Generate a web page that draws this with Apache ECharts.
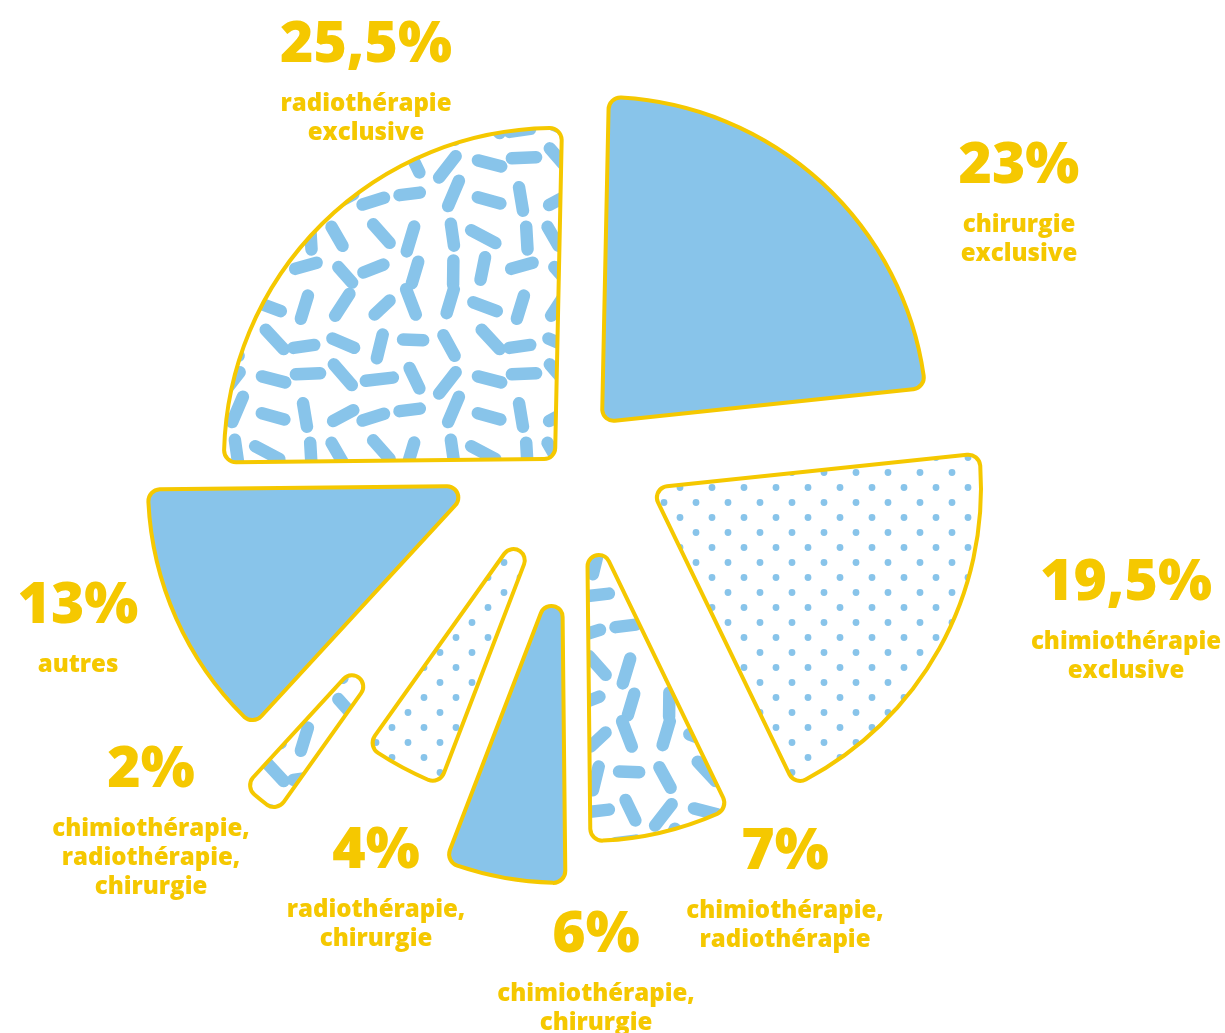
<!DOCTYPE html>
<html><head><meta charset="utf-8">
<script src="https://cdn.jsdelivr.net/npm/echarts@6/dist/echarts.min.js"></script>
<style>html,body{margin:0;padding:0;background:#fff}#c{width:1225px;height:1033px}</style>
</head><body><div id="c"></div>
<script>
// ---- data ----
const categories = ['chirurgie\nexclusive', 'chimiothérapie\nexclusive', 'chimiothérapie,\nradiothérapie', 'chimiothérapie,\nchirurgie', 'radiothérapie,\nchirurgie', 'chimiothérapie,\nradiothérapie,\nchirurgie', 'autres', 'radiothérapie\nexclusive'];
const values = [23, 19.5, 7, 6, 4, 2, 13, 25.5];

// ---- style / layout ----
const YELLOW = '#F5C800';
const BLUE = '#88C4EA';
const fills = ['solid', 'dots', 'dashes', 'solid', 'dots', 'dashes', 'solid', 'dashes'];
const centers = [[602, 422], [651, 488], [587, 516], [562, 558], [556, 481], [465, 547], [473, 486], [555, 459]];
const radii = [325, 330, 325, 325, 325, 325, 325, 331];
const labelPos = [[1019, 123], [1126, 540], [785, 809], [596, 892], [376, 808], [151, 727], [78, 563], [366, 2]];
const CR = 12;
const FONT = 'Open Sans';
const START = 88.8;

function hash(n) { const s = Math.sin(n * 12.9898 + 78.233) * 43758.5453; return s - Math.floor(s); }
function makeDashes() {
  const S = 216, c = document.createElement('canvas'); c.width = c.height = S;
  const g = c.getContext('2d'); g.fillStyle = '#fff'; g.fillRect(0, 0, S, S);
  g.strokeStyle = BLUE; g.lineWidth = 12.5; g.lineCap = 'round';
  const n = 6, cell = S / n;
  let k = 1;
  for (let i = 0; i < n; i++) for (let j = 0; j < n; j++) {
    const x = (i + 0.5) * cell + (hash(k++) - 0.5) * 10, y = (j + 0.5) * cell + (hash(k++) - 0.5) * 10;
    const a = hash(k++) * Math.PI, L = 20 + hash(k++) * 8;
    const dx = Math.cos(a) * L / 2, dy = Math.sin(a) * L / 2;
    for (const ox of [-S, 0, S]) for (const oy of [-S, 0, S]) {
      g.beginPath(); g.moveTo(x - dx + ox, y - dy + oy); g.lineTo(x + dx + ox, y + dy + oy); g.stroke();
    }
  }
  return c;
}
function makeDots() {
  const W = 32, H = 30, c = document.createElement('canvas'); c.width = W; c.height = H;
  const g = c.getContext('2d'); g.fillStyle = '#fff'; g.fillRect(0, 0, W, H);
  g.fillStyle = BLUE;
  [[8, 7.5], [24, 22.5]].forEach(p => { g.beginPath(); g.arc(p[0], p[1], 3.4, 0, Math.PI * 2); g.fill(); });
  return c;
}
const dashCanvas = makeDashes(), dotCanvas = makeDots();
function fillOf(k) {
  if (k === 'dashes') return { image: dashCanvas, repeat: 'repeat' };
  if (k === 'dots') return { image: dotCanvas, repeat: 'repeat' };
  return BLUE;
}
const pct = v => String(v).replace('.', ',') + '%';
const total = values.reduce((a, b) => a + b, 0);

const series = values.map((v, i) => {
  // inner radius chosen so the rounded apex corners merge into a single round tip
  const r0 = 0.94 * CR * (1 / Math.sin(Math.PI * v / total) - 1);
  return {
    type: 'pie', silent: true, animation: false, startAngle: START, clockwise: true,
    center: centers[i], radius: [r0, radii[i]], avoidLabelOverlap: false,
    labelLine: { show: false }, emphasis: { disabled: true },
    labelLayout: () => ({ x: labelPos[i][0], y: labelPos[i][1], align: 'center', verticalAlign: 'top' }),
    data: values.map((w, j) => j === i ? {
      value: w, name: categories[j],
      itemStyle: { color: fillOf(fills[i]), borderColor: YELLOW, borderWidth: 4, borderRadius: CR },
      label: {
        show: true, position: 'inside',
        formatter: '{v|' + pct(w) + '}\n' + categories[j].split('\n').map(s => '{n|' + s + '}').join('\n'),
        rich: {
          v: { fontSize: 57, fontWeight: 800, fontFamily: FONT, color: YELLOW, lineHeight: 88, align: 'center' },
          n: { fontSize: 24, fontWeight: 800, fontFamily: FONT, color: YELLOW, lineHeight: 29, align: 'center' }
        }
      }
    } : {
      value: w, name: categories[j],
      itemStyle: { color: 'rgba(0,0,0,0)', borderWidth: 0 }, label: { show: false }
    })
  };
});

const chart = echarts.init(document.getElementById('c'), null, { renderer: 'canvas' });
chart.setOption({ backgroundColor: '#fff', series: series });
</script>
</body></html>
